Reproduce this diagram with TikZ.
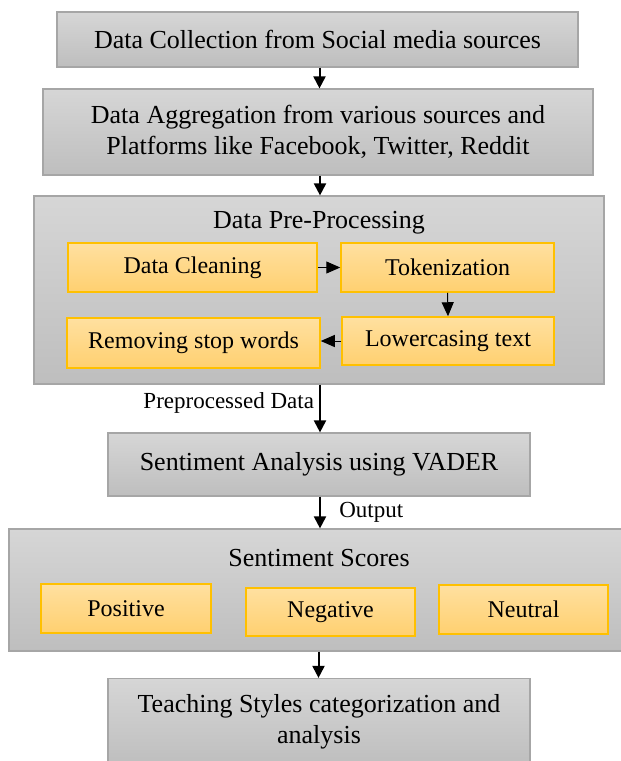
\documentclass[tikz,border=0pt]{standalone}
\usepackage{fontspec}
\setmainfont{Liberation Serif}
\usetikzlibrary{arrows.meta}

\definecolor{boxline}{RGB}{166,166,166}
\definecolor{boxtop}{RGB}{214,214,214}
\definecolor{boxbot}{RGB}{190,190,190}
\definecolor{ylwline}{RGB}{255,192,0}
\definecolor{ylwtop}{RGB}{255,224,160}
\definecolor{ylwbot}{RGB}{255,208,112}

\begin{document}
\begin{tikzpicture}[x=1pt,y=-1pt,
  grayblock/.style={draw=boxline, line width=1.2pt, top color=boxtop, bottom color=boxbot, inner sep=0pt, font=\fontsize{26}{31}\selectfont, align=center},
  ylwblock/.style={draw=ylwline, line width=1.5pt, top color=ylwtop, bottom color=ylwbot, inner sep=0pt, font=\fontsize{24}{28}\selectfont},
  flowarrow/.style={line width=2pt, -{Triangle[width=12pt,length=12pt]}},
  subarrow/.style={line width=1pt, -{Triangle[width=12pt,length=14pt]}},
  lbl/.style={font=\fontsize{23}{27}\selectfont}]
\useasboundingbox (0,0) rectangle (621,761);

\node[grayblock, minimum width=521, minimum height=55] (collect) at (317.5,39.5) {Data Collection from Social media sources};
\node[grayblock, minimum width=550, minimum height=86] (aggregate) at (318,132) {Data Aggregation from various sources and\\Platforms like Facebook, Twitter, Reddit};

% pre-processing block
\node[grayblock, minimum width=570, minimum height=188] (preproc) at (319,290) {};
\node[font=\fontsize{26}{31}\selectfont] (pretitle) at (319,223) {Data Pre-Processing};
\node[ylwblock, minimum width=249, minimum height=49] (clean) at (192.5,267.5) {Data Cleaning};
\node[ylwblock, minimum width=213, minimum height=49] (token) at (447.5,267.5) {Tokenization};
\node[ylwblock, minimum width=212, minimum height=48] (lower) at (448,341) {Lowercasing text};
\node[ylwblock, minimum width=253, minimum height=50] (stopw) at (193.5,343) {Removing stop words};

\node[grayblock, minimum width=422, minimum height=63] (vader) at (319,464.5) {Sentiment Analysis using VADER};

% scores block
\node[grayblock, minimum width=615, minimum height=122] (scores) at (316.5,590) {};
\node[font=\fontsize{26}{31}\selectfont] (scoretitle) at (319,558) {Sentiment Scores};
\node[ylwblock, minimum width=170, minimum height=49] (pos) at (126,608.5) {Positive};
\node[ylwblock, minimum width=169, minimum height=48] (neg) at (330.5,612) {Negative};
\node[ylwblock, minimum width=169, minimum height=49] (neut) at (523.5,609.5) {Neutral};

\node[grayblock, minimum width=422, minimum height=87] (teach) at (319,722) {Teaching Styles categorization and\\analysis};

\foreach \a/\b in {collect/aggregate, aggregate/preproc, scores/teach} {
\draw[flowarrow] ([xshift=2pt]\a.south) -- ([xshift=2pt]\a.south |- \b.north);
}
\draw[flowarrow] ([xshift=1pt]preproc.south) -- ([xshift=1pt]preproc.south |- vader.north)
  node[lbl, pos=0.38, left, inner sep=5pt] {Preprocessed Data};
\draw[flowarrow] ([xshift=1pt]vader.south) -- ([xshift=1pt]vader.south |- scores.north)
  node[lbl, pos=0.5, right=15pt] {Output};

\draw[subarrow] (clean.east) -- (token.west |- clean.east);
\draw[subarrow] (token.south) -- (lower.north);
\draw[subarrow] (lower.west) -- (stopw.east |- lower.west);

\end{tikzpicture}
\end{document}
